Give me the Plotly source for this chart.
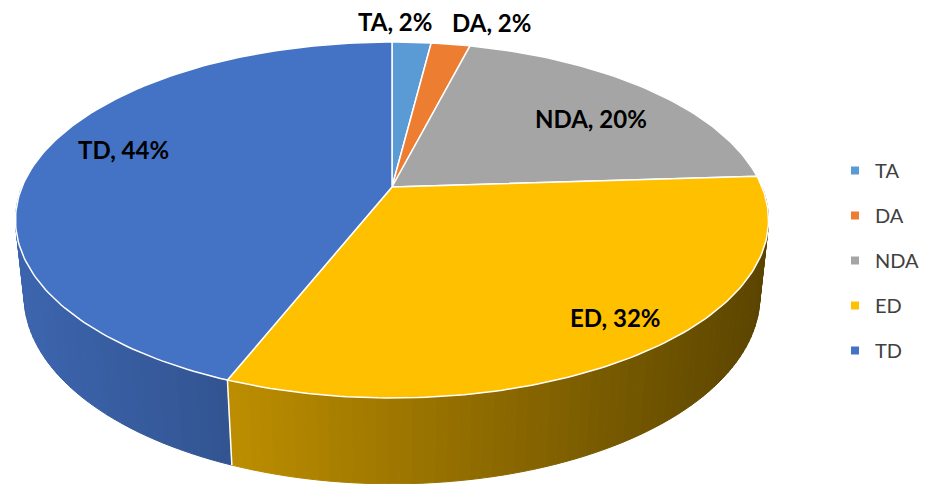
import numpy as np
import plotly.graph_objects as go

# ---------------- data ----------------
categories = ["TA", "DA", "NDA", "ED", "TD"]
values = [2, 2, 20, 32, 44]
label_texts = [f"{c}, {v}%" for c, v in zip(categories, values)]

# ---------------- styles ----------------
colors = ["#5B9BD5", "#ED7D31", "#A5A5A5", "#FFC000", "#4472C4"]
label_rho = [1.18, 1.19, 0.75, 0.85, 0.76]
label_dx = [-20, 32, 3, 12, 1]
label_dy = [-1, -1, -7, 5, 14]

W, HGT = 929, 484
OFF = 8  # page body margin in the browser
# perspective projection of a tilted disc (pixel space)
CX, CY = 392.0, 187.0
F = 1768.6
R = 0.2092
ALPHA = np.arcsin(0.4645)
DEPTH = 0.049


def proj(theta, rho=1.0, y=0.0):
    X = rho * R * np.sin(theta)
    Z = rho * R * np.cos(theta)
    u = Z * np.sin(ALPHA) + y * np.cos(ALPHA)
    d = 1 + Z * np.cos(ALPHA) - y * np.sin(ALPHA)
    return CX + F * X / d, CY - F * u / d


def hex_to_rgb(h):
    h = h.lstrip("#")
    return tuple(int(h[i:i + 2], 16) for i in (0, 2, 4))


def shade(hexcol, f):
    r, g, b = hex_to_rgb(hexcol)
    return f"rgb({int(r * f)},{int(g * f)},{int(b * f)})"


total = float(sum(values))
bounds = np.concatenate([[0], np.cumsum(values)]) / total * 2 * np.pi

fig = go.Figure()

# ---- side walls (front half), painter's order ----
strips = []
lo, hi = np.pi / 2, 3 * np.pi / 2
for i in range(len(values)):
    a0, a1 = max(bounds[i], lo), min(bounds[i + 1], hi)
    if a1 <= a0:
        continue
    n = max(2, int(np.degrees(a1 - a0) / 1.5) + 1)
    ts = np.linspace(a0, a1, n)
    for t0, t1 in zip(ts[:-1], ts[1:]):
        strips.append((i, t0, t1))
strips.sort(key=lambda s: -np.cos((s[1] + s[2]) / 2))

for i, t0, t1 in strips:
    x0t, y0t = proj(t0)
    x1t, y1t = proj(t1)
    x0b, y0b = proj(t0, 1, -DEPTH)
    x1b, y1b = proj(t1, 1, -DEPTH)
    xm = (x0t + x1t) / 2
    f = np.clip(0.89 - 0.00071 * (xm - 20), 0.3, 1.0)
    col = shade(colors[i], f)
    fig.add_trace(go.Scatter(
        x=[x0t, x1t, x1b, x0b, x0t], y=[y0t, y1t, y1b, y0b, y0t],
        mode="lines", fill="toself", fillcolor=col,
        line=dict(color=col, width=1.0), hoverinfo="skip", showlegend=False))

# white seams on the wall at slice boundaries
for b in bounds[1:-1]:
    if lo < b < hi:
        xt, yt = proj(b)
        xb, yb = proj(b, 1, -DEPTH)
        fig.add_trace(go.Scatter(x=[xt, xb], y=[yt, yb], mode="lines",
                                 line=dict(color="white", width=1.5),
                                 hoverinfo="skip", showlegend=False))

# ---- top face slices ----
for i in range(len(values)):
    ts = np.linspace(bounds[i], bounds[i + 1], max(3, int(np.degrees(bounds[i + 1] - bounds[i])) + 2))
    xs, ys = proj(ts)
    fig.add_trace(go.Scatter(
        x=np.concatenate([[CX], xs, [CX]]), y=np.concatenate([[CY], ys, [CY]]),
        mode="lines", fill="toself", fillcolor=colors[i],
        line=dict(color="white", width=1.5), hoverinfo="skip", showlegend=False))

# ---- legend entries ----
for c, col in zip(categories, colors):
    fig.add_trace(go.Scatter(x=[None], y=[None], mode="markers", name=c, legendgroup=c,
                             marker=dict(symbol="square", size=8, color=col)))

# ---- data labels ----
for i, txt in enumerate(label_texts):
    mid = (bounds[i] + bounds[i + 1]) / 2
    lx, ly = proj(mid, label_rho[i])
    fig.add_annotation(x=lx, y=ly, text=txt, showarrow=False,
                       xshift=label_dx[i], yshift=label_dy[i],
                       font=dict(family="Lato", size=24, color="black", weight="bold"))

fig.update_layout(
    width=W, height=HGT, autosize=False,
    margin=dict(l=0, r=0, t=0, b=0, autoexpand=False),
    paper_bgcolor="white", plot_bgcolor="white",
    xaxis=dict(range=[OFF, OFF + W], visible=False, fixedrange=True),
    yaxis=dict(range=[OFF + HGT, OFF], visible=False, fixedrange=True),
    showlegend=True,
    legend=dict(x=(835 - OFF) / W, y=1 - 143 / HGT, xanchor="left", yanchor="top",
                font=dict(family="Lato", size=20, color="#404040"),
                tracegroupgap=16, bgcolor="rgba(0,0,0,0)"),
)

fig.write_html("out.html")
